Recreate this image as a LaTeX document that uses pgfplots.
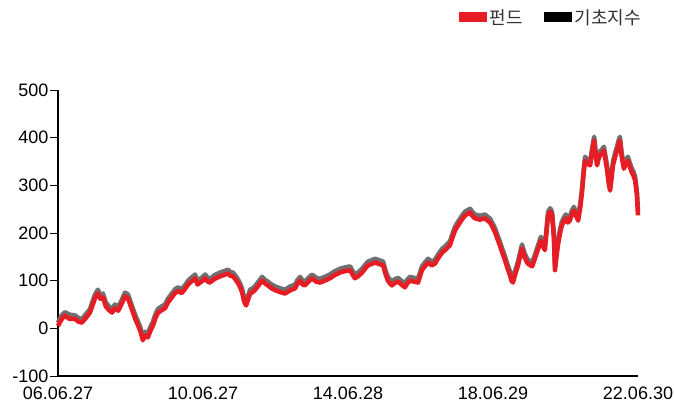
\documentclass[border=0pt]{standalone}
\usepackage{fontspec}
\setmainfont{Liberation Sans}
\newfontfamily\kr{Noto Sans CJK KR}
\usepackage{pgfplots}
\usepackage{pgfplotstable}
\pgfplotsset{compat=1.18}
\definecolor{fundred}{RGB}{232,28,36}
\definecolor{benchgray}{RGB}{112,112,112}

\pgfplotstableread{
year fund bench
2006.49 5 12
2006.58 18 26
2006.68 27 34
2006.80 20 29
2006.96 20 27
2007.05 14 22
2007.15 12 19
2007.26 22 30
2007.37 33 40
2007.45 50 58
2007.51 63 71
2007.59 73 81
2007.66 62 70
2007.73 65 73
2007.81 46 54
2007.90 38 46
2007.98 33 41
2008.06 42 50
2008.15 37 45
2008.25 52 60
2008.34 67 75
2008.42 63 71
2008.49 48 56
2008.56 33 41
2008.63 18 26
2008.70 6 14
2008.77 -8 0
2008.83 -25 -17
2008.90 -15 -7
2008.97 -19 -11
2009.04 -5 3
2009.11 6 14
2009.18 22 30
2009.25 33 41
2009.35 38 46
2009.44 42 50
2009.53 55 63
2009.63 65 73
2009.72 74 82
2009.80 78 86
2009.90 74 82
2009.99 82 90
2010.06 90 98
2010.13 96 104
2010.20 100 108
2010.27 105 113
2010.34 92 100
2010.41 96 104
2010.48 100 108
2010.55 105 113
2010.62 98 106
2010.68 96 104
2010.82 104 112
2010.96 109 117
2011.07 112 120
2011.18 115 123
2011.25 110 118
2011.32 109 117
2011.39 102 110
2011.46 94 102
2011.52 85 93
2011.57 75 83
2011.63 55 63
2011.68 48 56
2011.74 62 70
2011.79 73 81
2011.86 76 84
2011.92 80 88
2012.02 90 98
2012.12 100 108
2012.20 94 102
2012.28 90 98
2012.38 84 92
2012.48 80 88
2012.62 76 84
2012.75 73 81
2012.90 80 88
2013.03 84 92
2013.10 94 102
2013.17 100 108
2013.24 92 100
2013.30 90 98
2013.40 98 106
2013.50 105 113
2013.61 98 106
2013.72 96 104
2013.85 100 108
2013.99 105 113
2014.13 112 120
2014.27 117 125
2014.41 120 128
2014.55 122 130
2014.62 112 120
2014.68 105 113
2014.78 110 118
2014.88 117 125
2014.96 125 133
2015.04 132 140
2015.14 135 143
2015.24 138 146
2015.35 135 143
2015.46 132 140
2015.52 115 123
2015.59 100 108
2015.65 94 102
2015.70 90 98
2015.78 95 103
2015.87 98 106
2015.96 92 100
2016.06 86 94
2016.13 95 103
2016.20 100 108
2016.31 98 106
2016.42 96 104
2016.48 110 118
2016.53 122 130
2016.61 130 138
2016.70 138 146
2016.80 132 140
2016.89 136 144
2016.96 145 153
2017.03 153 161
2017.10 160 168
2017.17 164 172
2017.24 170 178
2017.30 174 182
2017.37 190 198
2017.44 205 213
2017.51 214 222
2017.58 222 230
2017.65 230 238
2017.72 237 245
2017.79 240 248
2017.86 243 251
2017.92 236 244
2017.99 231 239
2018.13 228 236
2018.27 231 239
2018.34 226 234
2018.41 222 230
2018.48 212 220
2018.55 201 209
2018.61 188 196
2018.68 174 182
2018.75 158 166
2018.82 143 151
2018.89 126 134
2018.96 111 119
2019.00 100 108
2019.04 96 104
2019.11 115 123
2019.18 132 140
2019.24 152 160
2019.29 168 176
2019.36 150 158
2019.43 138 146
2019.50 133 141
2019.57 130 138
2019.64 145 153
2019.70 159 167
2019.76 172 180
2019.81 184 192
2019.87 172 180
2019.92 164 172
2019.97 205 213
2020.01 237 245
2020.07 245 252
2020.12 237 244
2020.17 190 198
2020.20 122 130
2020.24 150 158
2020.28 174 182
2020.34 200 208
2020.39 216 224
2020.45 225 233
2020.50 231 239
2020.55 222 230
2020.61 226 234
2020.66 238 246
2020.72 247 255
2020.78 236 244
2020.84 226 234
2020.90 255 263
2020.95 289 297
2020.99 325 333
2021.03 352 360
2021.10 345 353
2021.17 342 350
2021.22 368 376
2021.28 394 402
2021.32 365 373
2021.36 342 350
2021.40 355 363
2021.44 363 371
2021.50 368 376
2021.55 373 381
2021.60 350 358
2021.64 331 339
2021.68 305 313
2021.72 289 297
2021.76 315 323
2021.80 342 350
2021.86 360 368
2021.91 373 381
2021.95 385 393
2021.99 394 402
2022.04 360 368
2022.10 335 343
2022.16 345 353
2022.21 352 360
2022.26 340 348
2022.32 327 335
2022.37 320 328
2022.41 310 318
2022.46 280 288
2022.49 237 245
}\datatable

\begin{document}
\begin{tikzpicture}[x=1pt,y=1pt]
\path[use as bounding box] (-58,-29) rectangle (616,376);
\begin{axis}[
  at={(0,0)}, anchor=south west,
  scale only axis,
  width=580pt, height=286pt,
  xmin=2006.49, xmax=2022.49,
  ymin=-100, ymax=500,
  ytick={-100,0,100,200,300,400,500},
  xtick={2006.49,2010.49,2014.49,2018.49,2022.49},
  xticklabels={06.06.27,10.06.27,14.06.28,18.06.29,22.06.30},
  axis x line*=bottom, axis y line*=left,
  axis line style={line width=1.5pt,-},
  tick align=outside,
  tick style={black,line width=1pt},
  major tick length=8pt,
  x tick style={draw=none},
  tick label style={font=\fontsize{18}{20}\selectfont},
  /pgf/number format/assume math mode=true,
  yticklabel style={xshift=2pt},
  xticklabel style={yshift=1pt},
  legend style={at={(1.016,1.297)}, anchor=north east, draw=none, fill=none,
    font=\fontsize{18}{20}\selectfont\kr, text=black!80, legend columns=2,
    nodes={inner xsep=3pt},
    /tikz/every even column/.append style={column sep=18pt}},
  legend image code/.code={\path[fill=#1, draw=none] (0pt,-5pt) rectangle (28pt,5pt);},
  clip=false,
]
\addplot[benchgray, line width=4.5pt, line join=round, forget plot] table[x=year,y=bench]{\datatable};
\addplot[fundred, line width=4.5pt, line join=round] table[x=year,y=fund]{\datatable};
\addlegendentry{펀드}
\addlegendimage{black}
\addlegendentry{기초지수}
\end{axis}
\end{tikzpicture}
\end{document}
